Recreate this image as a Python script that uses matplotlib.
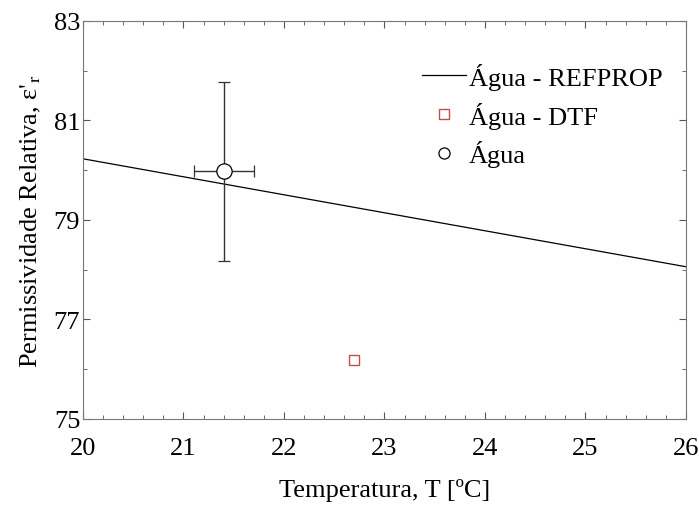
import matplotlib
matplotlib.use("Agg")
import matplotlib.pyplot as plt
from matplotlib.lines import Line2D
from matplotlib.ticker import MultipleLocator, FixedLocator

# REFPROP line (endpoints)
t_ref = [20.0, 26.0]
eps_ref = [80.23, 78.06]

# DTF simulation
t_dtf = [22.7]
eps_dtf = [76.18]

# measurement
t_exp = [21.4]
eps_exp = [79.98]
t_err = [0.3]
eps_err = [1.8]

y_major = [75, 77, 79, 81, 83]
y_minor = [76, 78, 80, 82]

plt.rcParams["font.family"] = ["Liberation Serif", "DejaVu Serif"]
plt.rcParams["mathtext.fontset"] = "stix"

fig = plt.figure(figsize=(6.99, 5.10), dpi=100)
ax = fig.add_axes([0.1187, 0.1765, 0.8627, 0.7804])

ax.plot(t_ref, eps_ref, color="black", lw=0.9)
ax.plot(t_dtf, eps_dtf, ls="none", marker="s", ms=7, mfc="white",
        mec="#c0504d", mew=1.0)
ax.errorbar(t_exp, eps_exp, xerr=t_err, yerr=eps_err, fmt="o", ms=11,
            mfc="white", mec="black", mew=0.9, ecolor="#333333",
            elinewidth=1.0, capsize=4, capthick=1.0)

ax.set_xlim(20, 26)
ax.set_ylim(75, 83)
ax.xaxis.set_major_locator(MultipleLocator(1))
ax.xaxis.set_minor_locator(MultipleLocator(0.2))
ax.yaxis.set_major_locator(FixedLocator(y_major))
ax.yaxis.set_minor_locator(FixedLocator(y_minor))
ax.tick_params(which="both", direction="in", top=True, right=True,
               labelsize=19, color="#555555")
ax.tick_params(which="major", length=5)
ax.tick_params(which="minor", length=3)
ax.tick_params(axis="x", which="major", pad=13)
ax.tick_params(axis="y", which="major", pad=2)
for s in ax.spines.values():
    s.set_color("#777777")

ax.set_xlabel("Temperatura, T [ºC]", fontsize=19, labelpad=14)
ax.set_ylabel("Permissividade Relativa, ε$'_{\\mathrm{r}}$", fontsize=19, labelpad=8)

handles = [
    Line2D([], [], color="black", lw=0.9),
    Line2D([], [], ls="none", marker="s", ms=7, mfc="white", mec="#c0504d", mew=1.0),
    Line2D([], [], ls="none", marker="o", ms=8, mfc="white", mec="black", mew=0.9),
]
labels = ["Água - REFPROP", "Água - DTF", "Água"]
ax.legend(handles, labels, loc="upper right", frameon=False, fontsize=19,
          handlelength=1.65, handletextpad=0.1, labelspacing=0.45,
          bbox_to_anchor=(1.0, 0.955))

fig.savefig("out.png", dpi=100)
